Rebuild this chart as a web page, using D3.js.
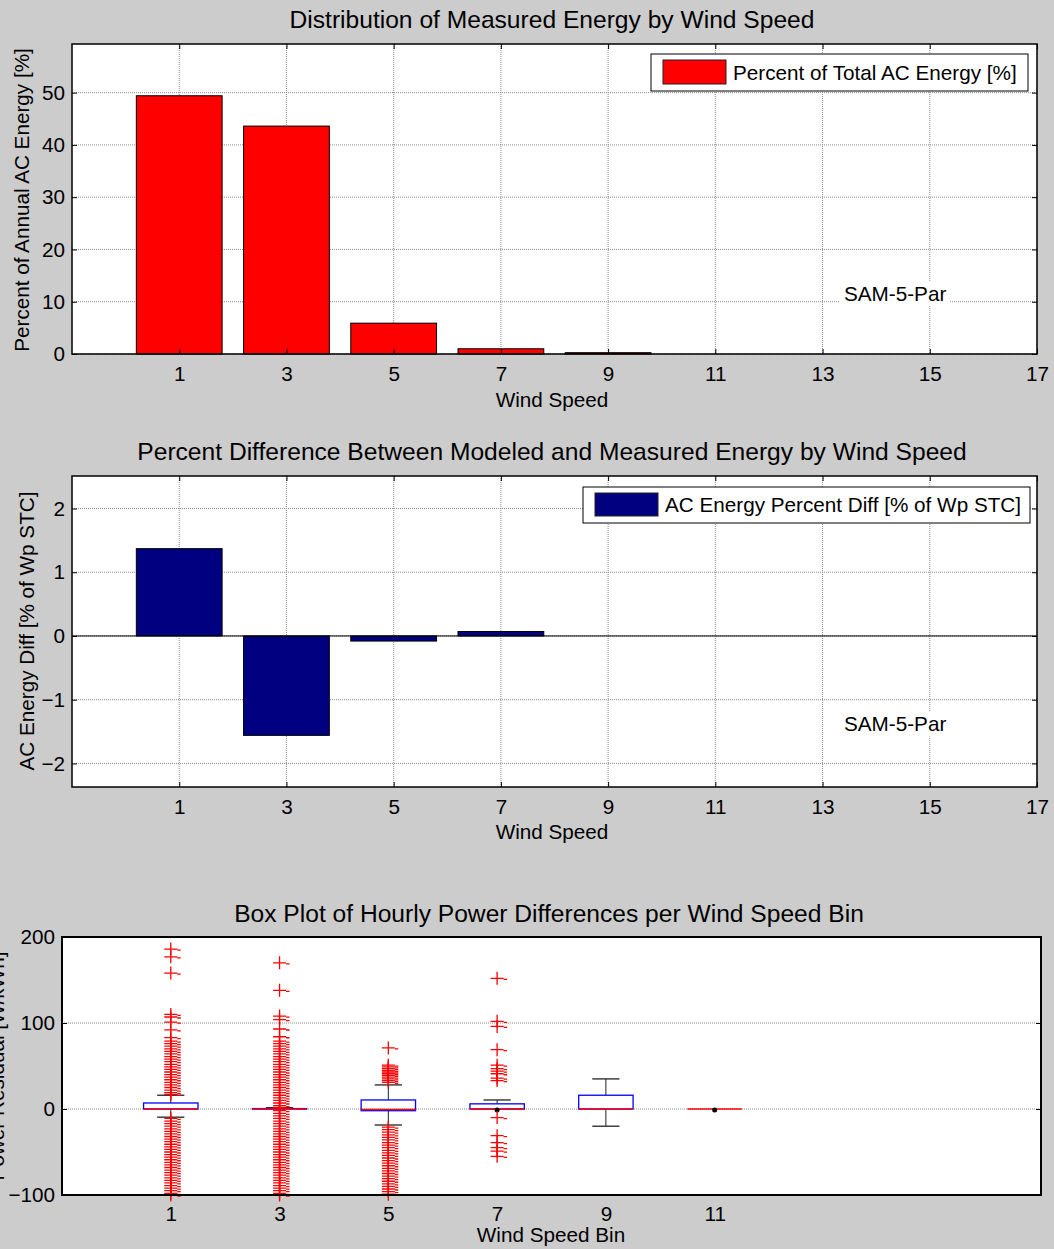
<!DOCTYPE html>
<html>
<head>
<meta charset="utf-8">
<script src="https://cdn.jsdelivr.net/npm/d3@7"></script>
<style>
  body { margin: 0; background: #cccccc; }
  svg { display: block; font-family: "Liberation Sans", Arial, sans-serif; }
</style>
</head>
<body>
<svg id="fig" width="1054" height="1249"></svg>
<script>
// ---- bar chart data ----
const windBins = [1, 3, 5, 7, 9, 11, 13, 15];
const energyShare = [49.4, 43.6, 5.9, 1.0, 0.25, 0, 0, 0];
const energyDiff = [1.37, -1.56, -0.08, 0.07, 0, 0, 0, 0];
const windTicks = [1, 3, 5, 7, 9, 11, 13, 15, 17];
const shareTicks = [0, 10, 20, 30, 40, 50];
const diffTicks = [-2, -1, 0, 1, 2];

// ---- box plot data ----
const boxBins = [1, 3, 5, 7, 9, 11];
const boxQ1 = [0, 0, -2, 0, 0, 0];
const boxMedian = [0, 0, -0.5, 0, 0, 0];
const boxQ3 = [7, 0.5, 10.5, 6, 16, 0];
const whiskerLow = [-9.5, 0, -18.6, 0, -20, 0];
const whiskerHigh = [16, 1.5, 28, 10.5, 35, 0];
const meanMarkBins = [7, 11];
const residualTicks = [-100, 0, 100, 200];
const outliersBin1 = [186, 177, 158, 110, 107, 101, 92, 83,
  79, 76, 73, 70, 67, 64, 61, 58, 55, 52, 49, 46, 43, 40, 37, 34, 31, 28, 25, 22, 19, 17,
  -11, -14, -17, -20, -23, -26, -29, -32, -35, -38, -41, -44, -47, -50, -53, -56, -59,
  -62, -65, -68, -71, -74, -77, -80, -83, -86, -89, -92, -95, -98, -100];
const outliersBin3 = [170, 138, 108, 104, 93, 84,
  79, 76, 73, 70, 67, 64, 61, 58, 55, 52, 49, 46, 43, 40, 37, 34, 31, 28, 25, 22, 19, 16,
  13, 10, 7, 4, 2,
  -2, -5, -8, -11, -14, -17, -20, -23, -26, -29, -32, -35, -38, -41, -44, -47, -50, -53,
  -56, -59, -62, -65, -68, -71, -74, -77, -80, -83, -86, -89, -92, -95, -98, -100];
const outliersBin5 = [71, 51, 49, 47, 45, 43, 41, 39, 37, 35, 33, 31,
  -21, -24, -27, -30, -33, -36, -39, -42, -45, -48, -51, -54, -57, -60, -63, -66, -69,
  -72, -75, -78, -81, -84, -87, -90, -93, -96, -99];
const outliersBin7 = [152, 102, 96, 69, 51, 47, 44, 41, 36, 33,
  -10, -31, -39, -45, -49, -55];
const outliersBin9 = [];
const outliersBin11 = [];

const svg = d3.select("#fig");
const FS = 20.7;

function text(g, x, y, str, opts = {}) {
  const t = g.append("text")
    .attr("x", x).attr("y", y)
    .attr("font-size", opts.size || FS)
    .attr("text-anchor", opts.anchor || "middle")
    .attr("fill", "#000")
    .text(str);
  if (opts.rotate) t.attr("transform", `rotate(${opts.rotate},${x},${y})`);
  return t;
}

// Axes frame: white plot area and dotted gridlines
function frame(x, y, cfg) {
  const [l, r] = x.range();
  const [b, t] = y.range();
  const g = svg.append("g");
  g.append("rect").attr("x", l).attr("y", t).attr("width", r - l).attr("height", b - t)
    .attr("fill", "#fff");
  const grid = g.append("g").attr("stroke", "#8c8c8c").attr("stroke-width", 1)
    .attr("stroke-dasharray", "1,1");
  if (cfg.vGrid) {
    grid.selectAll(".vg").data(cfg.xTicks).join("line")
      .attr("x1", d => x(d)).attr("x2", d => x(d)).attr("y1", t).attr("y2", b);
  }
  grid.selectAll(".hg").data(cfg.yTicks).join("line")
    .attr("x1", l).attr("x2", r).attr("y1", d => y(d)).attr("y2", d => y(d));
  return g;
}

// Inward ticks on all four sides, tick labels, and the box outline
function axes(g, x, y, cfg) {
  const [l, r] = x.range();
  const [b, t] = y.range();
  const xa = g.append("g").attr("transform", `translate(0,${b})`)
    .call(d3.axisBottom(x).tickValues(cfg.xTicks).tickSize(cfg.xTickLen).tickPadding(cfg.xPad)
      .tickFormat(d3.format("d")));
  const xt = g.append("g").attr("transform", `translate(0,${t})`)
    .call(d3.axisTop(x).tickValues(cfg.xTicks).tickSize(cfg.xTickLen).tickFormat(""));
  const ya = g.append("g").attr("transform", `translate(${l},0)`)
    .call(d3.axisLeft(y).tickValues(cfg.yTicks).tickSize(-5).tickPadding(cfg.yPad)
      .tickFormat(d3.format("d")));
  const yr = g.append("g").attr("transform", `translate(${r},0)`)
    .call(d3.axisRight(y).tickValues(cfg.yTicks).tickSize(-5).tickFormat(""));
  [xa, xt, ya, yr].forEach(a => {
    a.select(".domain").remove();
    a.selectAll("line").attr("stroke", "#000");
    a.selectAll("text").attr("font-size", FS).attr("font-family", "Liberation Sans, Arial, sans-serif")
      .attr("fill", "#000");
  });
  g.append("rect").attr("x", l).attr("y", t).attr("width", r - l).attr("height", b - t)
    .attr("fill", "none").attr("stroke", "#000").attr("stroke-width", cfg.border || 1.5);
}

function modelTag(g, x, y, xv, yv) {
  const tag = text(g, x(xv), y(yv), "SAM-5-Par", { anchor: "start" })
    .attr("dominant-baseline", "central");
  const bb = tag.node().getBBox();
  g.insert("rect", () => tag.node())
    .attr("x", bb.x - 4).attr("y", bb.y - 1).attr("width", bb.width + 7).attr("height", bb.height + 2)
    .attr("fill", "#fff");
}

function legend(g, x0, y0, w, h, color, label) {
  g.append("rect").attr("x", x0).attr("y", y0).attr("width", w).attr("height", h)
    .attr("fill", "#fff").attr("stroke", "#000").attr("stroke-width", 1);
  g.append("rect").attr("x", x0 + 12).attr("y", y0 + 6).attr("width", 63).attr("height", h - 13)
    .attr("fill", color).attr("stroke", "#222").attr("stroke-width", 1);
  text(g, x0 + 82, y0 + h / 2 + 7, label, { anchor: "start" });
}

// ================= Panel 1: energy distribution =================
{
  const x = d3.scaleLinear().domain([-1, 17]).range([72, 1037]);
  const y = d3.scaleLinear().domain([0, 59.3]).range([354, 44]);
  const g = frame(x, y, { vGrid: true, xTicks: windTicks, yTicks: shareTicks });
  const bw = x(1.6) - x(0);
  g.selectAll(".bar").data(windBins.map((b, i) => ({ b, v: energyShare[i] })).filter(d => d.v > 0)).join("rect")
    .attr("x", d => x(d.b) - bw / 2).attr("width", bw)
    .attr("y", d => y(d.v)).attr("height", d => y(0) - y(d.v))
    .attr("fill", "#ff0000").attr("stroke", "#000").attr("stroke-width", 1);
  modelTag(g, x, y, 13.4, 11.6);
  axes(g, x, y, { xTicks: windTicks, yTicks: shareTicks, xTickLen: -5, xPad: 12, yPad: 7 });
  legend(g, 651, 54, 377, 37, "#ff0000", "Percent of Total AC Energy [%]");
  text(g, 552, 28, "Distribution of Measured Energy by Wind Speed", { size: 24.6 });
  text(g, 552, 407, "Wind Speed");
  text(g, 29, 200, "Percent of Annual AC Energy [%]", { rotate: -90 });
}

// ================= Panel 2: modeled vs measured difference =================
{
  const x = d3.scaleLinear().domain([-1, 17]).range([72, 1037]);
  const y = d3.scaleLinear().domain([-2.37, 2.51]).range([787, 476]);
  const g = frame(x, y, { vGrid: true, xTicks: windTicks, yTicks: diffTicks });
  const bw = x(1.6) - x(0);
  g.selectAll(".bar").data(windBins.map((b, i) => ({ b, v: energyDiff[i] })).filter(d => d.v !== 0)).join("rect")
    .attr("x", d => x(d.b) - bw / 2).attr("width", bw)
    .attr("y", d => y(Math.max(0, d.v))).attr("height", d => Math.abs(y(d.v) - y(0)))
    .attr("fill", "#000080").attr("stroke", "#000").attr("stroke-width", 1);
  g.append("line").attr("x1", x(-1)).attr("x2", x(17)).attr("y1", y(0)).attr("y2", y(0))
    .attr("stroke", "#000").attr("stroke-width", 1);
  modelTag(g, x, y, 13.4, -1.38);
  axes(g, x, y, { xTicks: windTicks, yTicks: diffTicks, xTickLen: -5, xPad: 12, yPad: 7 });
  legend(g, 583, 487, 447, 36, "#000080", "AC Energy Percent Diff [% of Wp STC]");
  text(g, 552, 460, "Percent Difference Between Modeled and Measured Energy by Wind Speed", { size: 24.6 });
  text(g, 552, 839, "Wind Speed");
  text(g, 34, 631, "AC Energy Diff [% of Wp STC]", { rotate: -90 });
}

// ================= Panel 3: hourly power residual box plot =================
{
  const x = d3.scaleLinear().domain([-1, 17]).range([62, 1041]);
  const y = d3.scaleLinear().domain([-100, 200]).range([1195, 937]);
  const g = frame(x, y, { vGrid: false, xTicks: boxBins, yTicks: residualTicks });
  const boxes = boxBins.map((b, i) => ({
    b, q1: boxQ1[i], med: boxMedian[i], q3: boxQ3[i], lo: whiskerLow[i], hi: whiskerHigh[i]
  }));
  const half = (x(0.5) - x(0));
  const cap = half / 2;
  const bx = g.append("g");
  boxes.forEach(d => {
    if (d.hi > d.q3) {
      bx.append("line").attr("x1", x(d.b)).attr("x2", x(d.b)).attr("y1", y(d.q3)).attr("y2", y(d.hi))
        .attr("stroke", "#222").attr("stroke-width", 1);
      bx.append("line").attr("x1", x(d.b) - cap).attr("x2", x(d.b) + cap).attr("y1", y(d.hi)).attr("y2", y(d.hi))
        .attr("stroke", "#222").attr("stroke-width", 1.3);
    }
    if (d.lo < d.q1) {
      bx.append("line").attr("x1", x(d.b)).attr("x2", x(d.b)).attr("y1", y(d.q1)).attr("y2", y(d.lo))
        .attr("stroke", "#222").attr("stroke-width", 1);
      bx.append("line").attr("x1", x(d.b) - cap).attr("x2", x(d.b) + cap).attr("y1", y(d.lo)).attr("y2", y(d.lo))
        .attr("stroke", "#222").attr("stroke-width", 1.3);
    }
    if (d.q3 > d.q1) {
      bx.append("rect").attr("x", x(d.b) - half).attr("width", 2 * half)
        .attr("y", y(d.q3)).attr("height", y(d.q1) - y(d.q3))
        .attr("fill", "none").attr("stroke", "#0000ff").attr("stroke-width", 1.3);
    }
    bx.append("line").attr("x1", x(d.b) - half).attr("x2", x(d.b) + half)
      .attr("y1", y(d.med)).attr("y2", y(d.med))
      .attr("stroke", "#ff0000").attr("stroke-width", 1.6);
  });
  g.selectAll(".mean").data(meanMarkBins).join("circle")
    .attr("cx", d => x(d)).attr("cy", y(0) + 1).attr("r", 2.5).attr("fill", "#000");
  // outlier "+" markers
  const outlierSets = [outliersBin1, outliersBin3, outliersBin5, outliersBin7, outliersBin9, outliersBin11];
  const pts = [];
  outlierSets.forEach((set, i) => set.forEach(v => pts.push({ b: boxBins[i], v })));
  g.append("g").selectAll("path").data(pts).join("path")
    .attr("transform", d => `translate(${x(d.b)},${y(d.v)})`)
    .attr("d", "M-6.5,0H6.5M0,-6.5V6.5M6.5,1H10")
    .attr("stroke", "#ff0000").attr("stroke-width", 1.3).attr("fill", "none");
  axes(g, x, y, { xTicks: boxBins, yTicks: residualTicks, xTickLen: 0, xPad: 11, yPad: 7, border: 2 });
  text(g, 549, 922, "Box Plot of Hourly Power Differences per Wind Speed Bin", { size: 24.6 });
  text(g, 551, 1242, "Wind Speed Bin");
  text(g, 4, 1066, "Power Residual [W/kWh]", { rotate: -90 });
}
</script>
</body>
</html>
